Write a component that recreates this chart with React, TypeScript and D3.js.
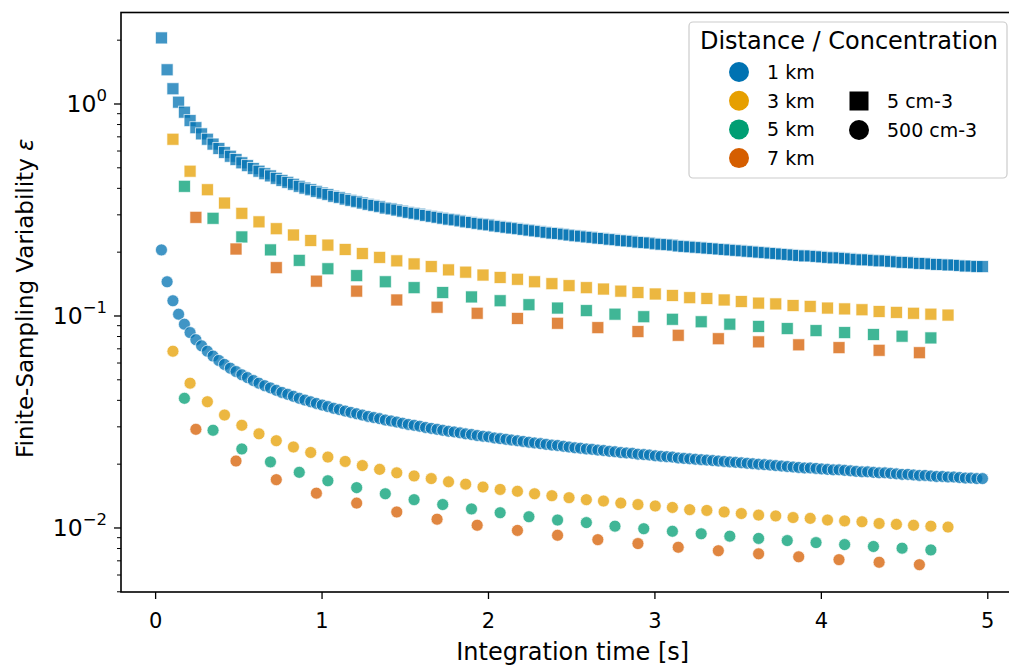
import React from 'react';
import * as d3 from 'd3';

// distances / concentrations
const distances = ['1 km', '3 km', '5 km', '7 km'];
const colors = ['#0072B2', '#E69F00', '#009E73', '#D55E00'];
const concentrations = ['5 cm-3', '500 cm-3'];

// integration times [s] per distance
const time1km = [
  0.035, 0.069, 0.104, 0.138, 0.173, 0.207, 0.242, 0.276, 0.311, 0.345,
  0.380, 0.414, 0.449, 0.483, 0.518, 0.552, 0.587, 0.621, 0.656, 0.690,
  0.725, 0.759, 0.794, 0.828, 0.863, 0.897, 0.932, 0.966, 1.001, 1.035,
  1.070, 1.104, 1.139, 1.173, 1.208, 1.242, 1.277, 1.311, 1.346, 1.380,
  1.415, 1.449, 1.484, 1.518, 1.553, 1.587, 1.622, 1.656, 1.691, 1.725,
  1.760, 1.794, 1.829, 1.863, 1.898, 1.932, 1.967, 2.001, 2.036, 2.070,
  2.105, 2.139, 2.174, 2.208, 2.243, 2.277, 2.312, 2.346, 2.381, 2.415,
  2.450, 2.484, 2.519, 2.553, 2.588, 2.622, 2.657, 2.691, 2.726, 2.760,
  2.795, 2.829, 2.864, 2.898, 2.933, 2.967, 3.002, 3.036, 3.071, 3.105,
  3.140, 3.174, 3.209, 3.243, 3.278, 3.312, 3.347, 3.381, 3.416, 3.450,
  3.485, 3.519, 3.554, 3.588, 3.623, 3.657, 3.692, 3.726, 3.761, 3.795,
  3.830, 3.864, 3.899, 3.933, 3.968, 4.002, 4.037, 4.071, 4.106, 4.140,
  4.175, 4.209, 4.244, 4.278, 4.313, 4.347, 4.382, 4.416, 4.451, 4.485,
  4.520, 4.554, 4.589, 4.623, 4.658, 4.692, 4.727, 4.761, 4.796, 4.830,
  4.865, 4.899, 4.934, 4.968,
];
const time3km = [
  0.104, 0.207, 0.311, 0.414, 0.518, 0.621, 0.725, 0.828, 0.932, 1.035,
  1.139, 1.242, 1.346, 1.449, 1.553, 1.656, 1.760, 1.863, 1.967, 2.070,
  2.174, 2.277, 2.381, 2.484, 2.588, 2.691, 2.795, 2.898, 3.002, 3.105,
  3.209, 3.312, 3.416, 3.519, 3.623, 3.726, 3.830, 3.933, 4.037, 4.140,
  4.244, 4.347, 4.451, 4.554, 4.658, 4.761,
];
const time5km = [
  0.173, 0.345, 0.518, 0.690, 0.863, 1.035, 1.208, 1.380, 1.553, 1.725,
  1.898, 2.070, 2.243, 2.415, 2.588, 2.760, 2.933, 3.105, 3.278, 3.450,
  3.623, 3.795, 3.968, 4.140, 4.313, 4.485, 4.658,
];
const time7km = [
  0.242, 0.483, 0.725, 0.966, 1.208, 1.449, 1.691, 1.932, 2.174, 2.415,
  2.657, 2.898, 3.140, 3.381, 3.623, 3.864, 4.106, 4.347, 4.589,
];

// variability at 5 cm-3
const eps1kmLow = [
  2.05, 1.45, 1.18, 1.02, 0.915, 0.835, 0.773, 0.723, 0.682, 0.647,
  0.617, 0.591, 0.567, 0.547, 0.528, 0.512, 0.496, 0.482, 0.469, 0.458,
  0.446, 0.436, 0.427, 0.418, 0.409, 0.401, 0.394, 0.387, 0.380, 0.374,
  0.367, 0.362, 0.356, 0.351, 0.346, 0.341, 0.336, 0.332, 0.328, 0.323,
  0.320, 0.316, 0.312, 0.308, 0.305, 0.302, 0.298, 0.295, 0.292, 0.289,
  0.286, 0.284, 0.281, 0.278, 0.276, 0.273, 0.271, 0.269, 0.266, 0.264,
  0.262, 0.260, 0.258, 0.256, 0.254, 0.252, 0.250, 0.248, 0.246, 0.245,
  0.243, 0.241, 0.239, 0.238, 0.236, 0.235, 0.233, 0.232, 0.230, 0.229,
  0.227, 0.226, 0.225, 0.223, 0.222, 0.221, 0.219, 0.218, 0.217, 0.216,
  0.214, 0.213, 0.212, 0.211, 0.210, 0.209, 0.208, 0.207, 0.206, 0.205,
  0.204, 0.203, 0.202, 0.201, 0.200, 0.199, 0.198, 0.197, 0.196, 0.195,
  0.194, 0.193, 0.192, 0.192, 0.191, 0.190, 0.189, 0.188, 0.188, 0.187,
  0.186, 0.185, 0.184, 0.184, 0.183, 0.182, 0.182, 0.181, 0.180, 0.179,
  0.179, 0.178, 0.177, 0.177, 0.176, 0.175, 0.175, 0.174, 0.174, 0.173,
  0.172, 0.172, 0.171, 0.171,
];
const eps3kmLow = [
  0.682, 0.482, 0.394, 0.341, 0.305, 0.278, 0.258, 0.241, 0.227, 0.216,
  0.206, 0.197, 0.189, 0.182, 0.176, 0.171, 0.165, 0.161, 0.156, 0.152,
  0.149, 0.145, 0.142, 0.139, 0.136, 0.134, 0.131, 0.129, 0.127, 0.125,
  0.122, 0.121, 0.119, 0.117, 0.115, 0.114, 0.112, 0.111, 0.109, 0.108,
  0.107, 0.105, 0.104, 0.103, 0.102, 0.101,
];
const eps5kmLow = [
  0.409, 0.289, 0.236, 0.205, 0.183, 0.167, 0.155, 0.145, 0.136, 0.129,
  0.123, 0.118, 0.113, 0.109, 0.106, 0.102, 0.0992, 0.0965, 0.0939, 0.0915,
  0.0893, 0.0872, 0.0853, 0.0835, 0.0818, 0.0803, 0.0788,
];
const eps7kmLow = [
  0.292, 0.207, 0.169, 0.146, 0.131, 0.119, 0.110, 0.103, 0.0974, 0.0924,
  0.0881, 0.0844, 0.0811, 0.0781, 0.0755, 0.0731, 0.0709, 0.0689, 0.0671,
];

// variability at 500 cm-3
const eps1kmHigh = [
  0.205, 0.145, 0.118, 0.102, 0.0915, 0.0835, 0.0773, 0.0723, 0.0682, 0.0647,
  0.0617, 0.0591, 0.0567, 0.0547, 0.0528, 0.0512, 0.0496, 0.0482, 0.0469, 0.0458,
  0.0446, 0.0436, 0.0427, 0.0418, 0.0409, 0.0401, 0.0394, 0.0387, 0.0380, 0.0374,
  0.0367, 0.0362, 0.0356, 0.0351, 0.0346, 0.0341, 0.0336, 0.0332, 0.0328, 0.0323,
  0.0320, 0.0316, 0.0312, 0.0308, 0.0305, 0.0302, 0.0298, 0.0295, 0.0292, 0.0289,
  0.0286, 0.0284, 0.0281, 0.0278, 0.0276, 0.0273, 0.0271, 0.0269, 0.0266, 0.0264,
  0.0262, 0.0260, 0.0258, 0.0256, 0.0254, 0.0252, 0.0250, 0.0248, 0.0246, 0.0245,
  0.0243, 0.0241, 0.0239, 0.0238, 0.0236, 0.0235, 0.0233, 0.0232, 0.0230, 0.0229,
  0.0227, 0.0226, 0.0225, 0.0223, 0.0222, 0.0221, 0.0219, 0.0218, 0.0217, 0.0216,
  0.0214, 0.0213, 0.0212, 0.0211, 0.0210, 0.0209, 0.0208, 0.0207, 0.0206, 0.0205,
  0.0204, 0.0203, 0.0202, 0.0201, 0.0200, 0.0199, 0.0198, 0.0197, 0.0196, 0.0195,
  0.0194, 0.0193, 0.0192, 0.0192, 0.0191, 0.0190, 0.0189, 0.0188, 0.0188, 0.0187,
  0.0186, 0.0185, 0.0184, 0.0184, 0.0183, 0.0182, 0.0182, 0.0181, 0.0180, 0.0179,
  0.0179, 0.0178, 0.0177, 0.0177, 0.0176, 0.0175, 0.0175, 0.0174, 0.0174, 0.0173,
  0.0172, 0.0172, 0.0171, 0.0171,
];
const eps3kmHigh = [
  0.0682, 0.0482, 0.0394, 0.0341, 0.0305, 0.0278, 0.0258, 0.0241, 0.0227, 0.0216,
  0.0206, 0.0197, 0.0189, 0.0182, 0.0176, 0.0171, 0.0165, 0.0161, 0.0156, 0.0152,
  0.0149, 0.0145, 0.0142, 0.0139, 0.0136, 0.0134, 0.0131, 0.0129, 0.0127, 0.0125,
  0.0122, 0.0121, 0.0119, 0.0117, 0.0115, 0.0114, 0.0112, 0.0111, 0.0109, 0.0108,
  0.0107, 0.0105, 0.0104, 0.0103, 0.0102, 0.0101,
];
const eps5kmHigh = [
  0.0409, 0.0289, 0.0236, 0.0205, 0.0183, 0.0167, 0.0155, 0.0145, 0.0136, 0.0129,
  0.0123, 0.0118, 0.0113, 0.0109, 0.0106, 0.0102, 0.00992, 0.00965, 0.00939, 0.00915,
  0.00893, 0.00872, 0.00853, 0.00835, 0.00818, 0.00803, 0.00788,
];
const eps7kmHigh = [
  0.0292, 0.0207, 0.0169, 0.0146, 0.0131, 0.0119, 0.0110, 0.0103, 0.00974, 0.00924,
  0.00881, 0.00844, 0.00811, 0.00781, 0.00755, 0.00731, 0.00709, 0.00689, 0.00671,
];

const xTicks = [0, 1, 2, 3, 4, 5];
const yTicks = [0.01, 0.1, 1];
const yTickExp = ['−2', '−1', '0'];

const W = 1009;
const H = 665;
const left = 121;
const right = 1024.4;
const top = 12.5;
const bottom = 592;
const FONT = 'DejaVu Sans, sans-serif';

const x = d3.scaleLinear().domain([-0.208, 5.22]).range([left, right]);
const y = d3.scaleLog().domain([Math.pow(10, -2.302), Math.pow(10, 0.4316)]).range([bottom, top]);

const times = [time1km, time3km, time5km, time7km];
const lowConc = [eps1kmLow, eps3kmLow, eps5kmLow, eps7kmLow];
const highConc = [eps1kmHigh, eps3kmHigh, eps5kmHigh, eps7kmHigh];

const series: { color: string; shape: 'square' | 'circle'; pts: [number, number][] }[] = [];
distances.forEach((_, i) => {
  series.push({ color: colors[i], shape: 'square', pts: times[i].map((t, j) => [t, lowConc[i][j]]) });
  series.push({ color: colors[i], shape: 'circle', pts: times[i].map((t, j) => [t, highConc[i][j]]) });
});

const MS = 12; // marker size in px

export default function App() {
  const minorTicks = y.ticks().filter((v) => !yTicks.some((t) => Math.abs(t - v) < 1e-12));

  return (
    <svg
      width={W}
      height={H}
      style={{ position: 'absolute', left: 0, top: 0, background: '#fff' }}
      fontFamily={FONT}
    >
      <defs>
        <clipPath id="plotClip">
          <rect x={left} y={top} width={right - left} height={bottom - top} />
        </clipPath>
      </defs>

      <g clipPath="url(#plotClip)">
        {series.map((s, si) => (
          <g key={si} fill={s.color} fillOpacity={0.75} stroke="#fff" strokeOpacity={0.75} strokeWidth={0.9}>
            {s.pts.map(([t, v], k) =>
              s.shape === 'square' ? (
                <rect key={k} x={x(t) - MS / 2} y={y(v) - MS / 2} width={MS} height={MS} />
              ) : (
                <circle key={k} cx={x(t)} cy={y(v)} r={MS / 2} />
              )
            )}
          </g>
        ))}
      </g>

      {/* frame */}
      <rect x={left} y={top} width={right - left} height={bottom - top} fill="none" stroke="#000" strokeWidth={1.6} />

      {/* x axis */}
      {xTicks.map((t) => (
        <g key={t}>
          <line x1={x(t)} x2={x(t)} y1={bottom} y2={bottom + 7} stroke="#000" strokeWidth={1.3} />
          <text x={x(t)} y={bottom + 36} textAnchor="middle" fontSize={21}>
            {t}
          </text>
        </g>
      ))}
      <text x={(left + right) / 2} y={660} textAnchor="middle" fontSize={24}>
        Integration time [s]
      </text>

      {/* y axis */}
      {yTicks.map((t, i) => (
        <g key={t}>
          <line x1={left - 7} x2={left} y1={y(t)} y2={y(t)} stroke="#000" strokeWidth={1.3} />
          <text x={left - 14} y={y(t) + 8} textAnchor="end" fontSize={23.5}>
            <tspan>10</tspan>
            <tspan dy={-10.5} fontSize={16.5}>
              {yTickExp[i]}
            </tspan>
          </text>
        </g>
      ))}
      {minorTicks.map((t) => (
        <line key={t} x1={left - 4} x2={left} y1={y(t)} y2={y(t)} stroke="#000" strokeWidth={1} />
      ))}
      <text
        transform={`translate(33, ${(top + bottom) / 2 - 4}) rotate(-90)`}
        textAnchor="middle"
        fontSize={23}
      >
        Finite-Sampling Variability <tspan fontStyle="italic">ε</tspan>
      </text>

      {/* legend */}
      <g>
        <rect x={689} y={22} width={318} height={156} rx={4} fill="#fff" fillOpacity={0.8} stroke="#cccccc" strokeWidth={1.2} />
        <text x={849} y={49} textAnchor="middle" fontSize={24}>
          Distance / Concentration
        </text>
        {distances.map((d, i) => (
          <g key={d}>
            <circle cx={739} cy={72 + i * 28.7} r={10} fill={colors[i]} />
            <text x={767} y={72 + i * 28.7 + 7} fontSize={19}>
              {d}
            </text>
          </g>
        ))}
        {concentrations.map((c, i) => (
          <g key={c}>
            {i === 0 ? (
              <rect x={859 - 9.5} y={101 - 9.5} width={19} height={19} fill="#000" />
            ) : (
              <circle cx={859} cy={130} r={10} fill="#000" />
            )}
            <text x={887} y={101 + i * 28.7 + 7} fontSize={19}>
              {c}
            </text>
          </g>
        ))}
      </g>
    </svg>
  );
}
